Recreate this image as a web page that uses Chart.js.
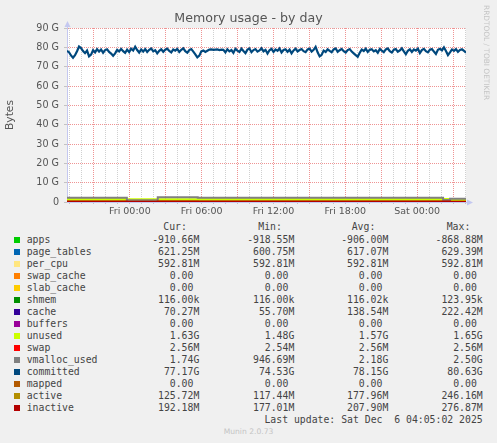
<!DOCTYPE html>
<html>
<head>
<meta charset="utf-8">
<script src="https://cdn.jsdelivr.net/npm/chart.js@4.4.1/dist/chart.umd.min.js"></script>
<style>
body { margin: 0; background: #f0f0f0; width: 497px; height: 443px; overflow: hidden; position: relative; font-family: "DejaVu Sans", sans-serif; }
#wrap { position: absolute; left: 0; top: 0; width: 497px; height: 220px; }
.t { position: absolute; white-space: pre; line-height: 1; }
#title { left: 0; width: 497px; text-align: center; top: 12.3px; font-size: 12.6px; color: #555; }
#rrd { position: absolute; left: 483px; top: 5px; writing-mode: vertical-rl; font-size: 7.4px; color: #c4c4c4; line-height: 1; white-space: pre; }
#munin { left: 0; width: 497px; text-align: center; top: 427.6px; font-size: 7.6px; color: #c4c4c4; }
.m { font-family: "DejaVu Sans Mono", monospace; font-size: 9.8px; color: #444; }
.sw { position: absolute; width: 6px; height: 6px; left: 14px; }
</style>
</head>
<body>
<div id="wrap"><canvas id="chart" width="497" height="220" style="width:497px;height:220px"></canvas></div>
<div class="t" id="title">Memory usage - by day</div>
<div id="rrd">RRDTOOL / TOBI OETIKER</div>
<div id="legend"></div>
<div class="t" id="munin">Munin 2.0.73</div>

<script>
// time axis, hours relative to Fri 00:00
const startHour = -5.25
const endHour = 28.083
const dayNames = ['Thu', 'Fri', 'Sat']

const yTicks = [0, 10, 20, 30, 40, 50, 60, 70, 80, 90]

// committed, GB left to right
const committedValues = [
    78.2, 77.5, 75.8, 74.6, 75.9, 78.0, 80.4, 79.6, 78.1, 77.0,
    78.3, 75.3, 76.2, 78.5, 77.4, 79.1, 77.8, 78.9, 77.2, 78.6,
    79.0, 77.6, 76.8, 75.6, 76.9, 78.7, 77.9, 79.2, 78.0, 77.1,
    78.8, 77.5, 79.3, 78.4, 80.3, 78.6, 77.3, 78.9, 77.8, 79.1,
    77.6, 78.7, 79.4, 77.9, 78.5, 76.9, 78.2, 79.0, 77.7, 78.8,
    79.3, 78.1, 77.4, 78.9, 78.3, 79.2, 77.6, 78.7, 79.5, 78.0,
    77.2, 78.6, 79.1, 77.8, 76.4, 74.8, 75.7, 77.9, 78.4, 77.6,
    78.2, 78.8, 78.9, 78.7, 78.8, 78.9, 78.6, 78.8, 78.7, 77.4,
    79.0, 77.9, 78.6, 77.1, 79.2, 78.3, 77.6, 79.3, 78.1, 77.0,
    78.8, 79.4, 77.5, 78.6, 79.1, 77.8, 78.4, 79.5, 77.9, 78.7,
    76.8, 78.5, 79.2, 77.6, 78.9, 78.2, 79.4, 77.3, 78.6, 79.0,
    77.7, 78.8, 76.9, 78.4, 79.3, 77.9, 78.6, 79.1, 78.0, 77.5,
    78.9, 79.3, 77.8, 78.7, 80.2, 77.4, 75.3, 76.1, 78.3, 77.6,
    79.0, 78.2, 77.5, 78.9, 79.4, 77.7, 78.5, 79.2, 78.0, 77.3,
    78.6, 79.1, 77.8, 76.9, 76.0, 75.1, 77.2, 78.8, 78.1, 79.3,
    77.6, 78.7, 79.0, 77.9, 78.5, 77.2, 79.2, 78.3, 77.5, 78.9,
    79.4, 78.0, 77.3, 78.8, 79.1, 77.7, 78.4, 79.5, 77.9, 76.4,
    78.2, 79.0, 77.6, 78.9, 78.3, 79.3, 77.1, 78.6, 79.2, 78.0,
    77.4, 78.8, 79.1, 77.8, 76.6, 78.7, 79.2, 78.4, 80.0, 78.1,
    76.0, 77.4, 78.9, 78.2, 79.1, 77.7, 78.6, 79.0, 78.2, 77.2
]

// the low series change at these hours (step values, GB)
const lowTimes = [-5.25, -0.25, 2.33, 5.67, 26.17, 26.75, 28.083]
const appsValues = [-0.91, -0.91, -0.92, -0.90, -0.87, -0.87, -0.91]
const pageTablesValues = [0.61, 0.60, 0.62, 0.63, 0.62, 0.62, 0.62]
const perCpuValues = [0.59, 0.59, 0.59, 0.59, 0.59, 0.59, 0.59]
const swapCacheValues = [0, 0, 0, 0, 0, 0, 0]
const slabCacheValues = [0, 0, 0, 0, 0, 0, 0]
const shmemValues = [0.0001, 0.0001, 0.0001, 0.0001, 0.0001, 0.0001, 0.0001]
const cacheValues = [0.14, 0.22, 0.06, 0.15, 0.12, 0.10, 0.07]
const buffersValues = [0, 0, 0, 0, 0, 0, 0]
const unusedValues = [1.58, 1.48, 1.65, 1.56, 1.60, 1.62, 1.63]
const swapValues = [0.0026, 0.0026, 0.0026, 0.0026, 0.0026, 0.0026, 0.0026]
const vmallocValues = [2.2, 0.95, 2.5, 2.2, 1.0, 1.74, 1.74]
const mappedValues = [0, 0, 0, 0, 0, 0, 0]
const activeValues = [0.17, 0.12, 0.25, 0.17, 0.14, 0.13, 0.13]
const inactiveValues = [0.21, 0.18, 0.28, 0.21, 0.20, 0.19, 0.19]

// legend
const seriesNames = ['apps', 'page_tables', 'per_cpu', 'swap_cache', 'slab_cache', 'shmem', 'cache', 'buffers',
    'unused', 'swap', 'vmalloc_used', 'committed', 'mapped', 'active', 'inactive']
const seriesColors = ['#00CC00', '#0066B3', '#FFE680', '#FF8000', '#FFCC00', '#008F00', '#330099', '#990099',
    '#CCFF00', '#FF0000', '#808080', '#00487D', '#B35A00', '#B38F00', '#B30000']
const curVals = ['-910.66M', '621.25M', '592.81M', '0.00 ', '0.00 ', '116.00k', '70.27M', '0.00 ',
    '1.63G', '2.56M', '1.74G', '77.17G', '0.00 ', '125.72M', '192.18M']
const minVals = ['-918.55M', '600.75M', '592.81M', '0.00 ', '0.00 ', '116.00k', '55.70M', '0.00 ',
    '1.48G', '2.54M', '946.69M', '74.53G', '0.00 ', '117.44M', '177.01M']
const avgVals = ['-906.00M', '617.07M', '592.81M', '0.00 ', '0.00 ', '116.02k', '138.54M', '0.00 ',
    '1.57G', '2.56M', '2.18G', '78.15G', '0.00 ', '177.96M', '207.90M']
const maxVals = ['-868.88M', '629.39M', '592.81M', '0.00 ', '0.00 ', '123.95k', '222.42M', '0.00 ',
    '1.65G', '2.56M', '2.50G', '80.63G', '0.00 ', '246.16M', '276.87M']
const lastUpdate = 'Last update: Sat Dec  6 04:05:02 2025'


// Build legend text
const legend = document.getElementById('legend')
function addText(cls, text, left, right, baseline) {
    const el = document.createElement('div')
    el.className = 't ' + cls
    el.textContent = text
    el.style.top = (baseline - 8.3) + 'px'
    if (right !== null) el.style.right = (497 - right) + 'px'
    else el.style.left = left + 'px'
    legend.appendChild(el)
}

addText('m', 'Cur:', 163.3, null, 230.5)
addText('m', 'Min:', 258.3, null, 230.5)
addText('m', 'Avg:', 351.7, null, 230.5)
addText('m', 'Max:', 446.7, null, 230.5)

seriesNames.forEach((name, i) => {
    const base = 243 + i * 12
    const sw = document.createElement('div')
    sw.className = 'sw'
    sw.style.top = (base - 6) + 'px'
    sw.style.background = seriesColors[i]
    legend.appendChild(sw)
    addText('m', name, 26.7, null, base)
    addText('m', curVals[i], 0, 199.3, base)
    addText('m', minVals[i], 0, 294.3, base)
    addText('m', avgVals[i], 0, 388.3, base)
    addText('m', maxVals[i], 0, 482.7, base)
})
addText('m', lastUpdate, 0, 482.7, 423)


// Stack the areas the way rrdtool does (negative values included)
const areaValues = [appsValues, pageTablesValues, perCpuValues, swapCacheValues, slabCacheValues,
    shmemValues, cacheValues, buffersValues, unusedValues, swapValues]
const lineValues = [vmallocValues, null, mappedValues, activeValues, inactiveValues]

const datasets = []
let cum = lowTimes.map(() => 0)
areaValues.forEach((vals, i) => {
    cum = cum.map((c, j) => c + vals[j])
    datasets.push({
        label: seriesNames[i],
        data: lowTimes.map((t, j) => ({ x: t, y: cum[j] })),
        stepped: true,
        fill: i === 0 ? 'origin' : '-1',
        backgroundColor: seriesColors[i],
        borderColor: 'transparent',
        borderWidth: 0,
        order: 100 - i
    })
})

lineValues.forEach((vals, k) => {
    const i = 10 + k
    let pts
    if (vals === null) {
        const step = (endHour - startHour) / (committedValues.length - 1)
        pts = committedValues.map((v, j) => ({ x: startHour + j * step, y: v }))
    } else {
        pts = lowTimes.map((t, j) => ({ x: t, y: vals[j] }))
    }
    datasets.push({
        label: seriesNames[i],
        data: pts,
        stepped: vals !== null,
        fill: false,
        borderColor: seriesColors[i],
        borderWidth: vals === null ? 2.2 : 2,
        order: 100 - i
    })
})


const axisColor = '#c4c8f0'
const majorGrid = 'rgba(230, 90, 90, 0.65)'
const minorGrid = 'rgba(150, 150, 150, 0.45)'

// white plot area and axis arrows
const munimFrame = {
    id: 'munimFrame',
    beforeDraw(chart) {
        const a = chart.chartArea
        const ctx = chart.ctx
        ctx.save()
        ctx.fillStyle = '#ffffff'
        ctx.fillRect(a.left, a.top, a.right - a.left, a.bottom - a.top)
        ctx.restore()
    },
    afterDraw(chart) {
        const a = chart.chartArea
        const ctx = chart.ctx
        ctx.save()
        ctx.fillStyle = axisColor
        ctx.strokeStyle = axisColor
        ctx.lineWidth = 1
        ctx.beginPath()
        ctx.moveTo(a.left + 0.5, a.top)
        ctx.lineTo(a.left + 0.5, a.top - 3)
        ctx.stroke()
        ctx.beginPath()
        ctx.moveTo(a.left - 2.5, a.top - 1)
        ctx.lineTo(a.left + 3.5, a.top - 1)
        ctx.lineTo(a.left + 0.5, a.top - 7)
        ctx.closePath()
        ctx.fill()
        ctx.beginPath()
        ctx.moveTo(a.right, a.bottom + 0.5)
        ctx.lineTo(a.right + 3, a.bottom + 0.5)
        ctx.stroke()
        ctx.beginPath()
        ctx.moveTo(a.right + 1, a.bottom - 2.5)
        ctx.lineTo(a.right + 1, a.bottom + 3.5)
        ctx.lineTo(a.right + 7, a.bottom + 0.5)
        ctx.closePath()
        ctx.fill()
        ctx.restore()
    }
}

new Chart(document.getElementById('chart'), {
    type: 'line',
    data: { datasets: datasets },
    plugins: [munimFrame],
    options: {
        responsive: false,
        animation: false,
        layout: { padding: { top: 28, right: 31, left: 0, bottom: 0 } },
        elements: { point: { radius: 0 }, line: { tension: 0 } },
        plugins: {
            legend: { display: false },
            tooltip: { enabled: false }
        },
        scales: {
            x: {
                type: 'linear',
                min: startHour,
                max: endHour,
                afterFit: (scale) => { scale.height = 18 },
                ticks: {
                    stepSize: 1,
                    includeBounds: false,
                    autoSkip: false,
                    maxRotation: 0,
                    padding: 2,
                    color: '#555',
                    font: { family: 'DejaVu Sans', size: 9.5 },
                    callback: (v) => {
                        if (v % 6 !== 0) return ''
                        const day = dayNames[Math.floor(v / 24) + 1]
                        const h = ((v % 24) + 24) % 24
                        return day + ' ' + String(h).padStart(2, '0') + ':00'
                    }
                },
                grid: {
                    color: (ctx) => ctx.tick && ctx.tick.value % 3 === 0 ? majorGrid : minorGrid,
                    lineWidth: 1,
                    drawTicks: true,
                    tickLength: 2,
                    tickColor: 'rgba(150, 150, 150, 0.5)',
                    tickBorderDash: []
                },
                border: { color: axisColor, width: 1, dash: [1, 1] }
            },
            y: {
                min: 0,
                max: 90,
                afterFit: (scale) => { scale.width = 67 },
                ticks: {
                    stepSize: 5,
                    padding: 5,
                    color: '#555',
                    font: { family: 'DejaVu Sans', size: 9.6 },
                    callback: (v) => yTicks.includes(v) ? (v === 0 ? '0' : v + ' G') : ''
                },
                grid: {
                    color: (ctx) => ctx.tick && ctx.tick.value % 10 === 0 ? majorGrid : minorGrid,
                    lineWidth: 1,
                    drawTicks: true,
                    tickLength: 3,
                    tickColor: 'rgba(150, 150, 150, 0.5)',
                    tickBorderDash: []
                },
                border: { color: axisColor, width: 1, dash: [1, 1] },
                title: {
                    display: true,
                    text: 'Bytes',
                    color: '#555',
                    font: { family: 'DejaVu Sans', size: 10.7 },
                    padding: { top: 4, bottom: 0 }
                }
            }
        }
    }
})
</script>
</body>
</html>
